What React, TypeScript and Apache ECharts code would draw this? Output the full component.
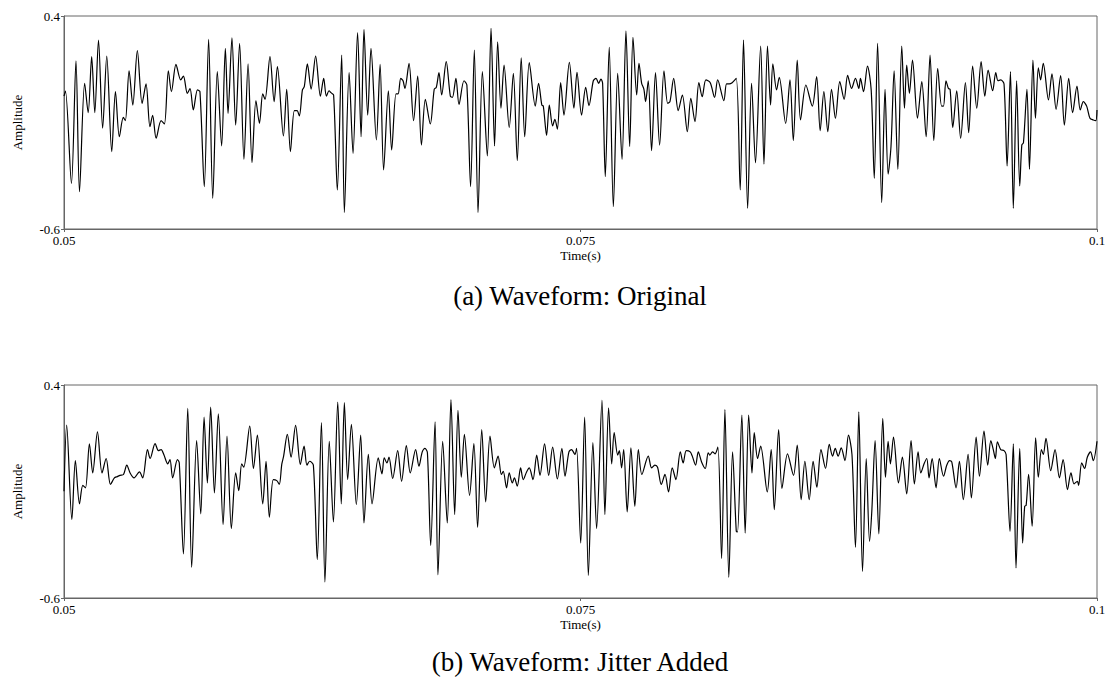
import React, { useEffect, useRef } from "react";
import * as echarts from "echarts";

// Waveform samples: time in milliseconds, amplitude in signal units.
// Each series is split into five ~10 ms windows.

// (a) Original
const ORIG_T1 = [50.00, 50.07, 50.36, 50.58, 50.75, 51.00, 51.17, 51.34, 51.49, 51.67, 51.87, 52.07, 52.31, 52.49, 52.68, 52.87, 52.97, 53.15, 53.33, 53.55, 53.78, 53.97, 54.16, 54.29, 54.46, 54.70, 54.86, 55.05, 55.20, 55.42, 55.65, 55.78, 55.97, 56.10, 56.26, 56.46, 56.58, 56.79, 57.00, 57.20, 57.42, 57.63, 57.81, 57.94, 58.13, 58.31, 58.50, 58.71, 58.91, 59.10, 59.29, 59.46, 59.62];
const ORIG_A1 = [0.024, 0.048, -0.386, 0.190, -0.425, 0.084, -0.054, 0.209, -0.054, 0.287, -0.127, 0.212, -0.237, 0.045, -0.167, -0.076, -0.091, 0.143, -0.018, 0.237, -0.010, 0.081, -0.120, -0.066, -0.174, -0.091, -0.107, 0.143, 0.045, 0.173, 0.100, 0.118, 0.037, 0.059, -0.041, 0.053, 0.045, -0.401, 0.290, -0.456, 0.139, -0.210, 0.248, -0.057, 0.297, -0.112, 0.272, -0.273, 0.175, -0.289, 0.003, -0.104, 0.034];

const ORIG_T2 = [59.73, 59.97, 60.17, 60.33, 60.62, 60.78, 60.96, 61.15, 61.28, 61.39, 61.54, 61.63, 61.78, 61.96, 62.18, 62.41, 62.57, 62.70, 62.83, 62.92, 63.05, 63.23, 63.44, 63.57, 63.80, 63.99, 64.21, 64.38, 64.52, 64.70, 64.86, 65.12, 65.30, 65.47, 65.70, 65.86, 66.07, 66.17, 66.30, 66.41, 66.50, 66.70, 66.92, 67.12, 67.30, 67.49, 67.73, 67.92, 68.02, 68.15, 68.28, 68.50, 68.70, 68.80, 68.97, 69.12, 69.36, 69.50];
const ORIG_A2 = [0.009, 0.209, -0.002, 0.162, -0.163, 0.056, -0.237, -0.044, -0.044, -0.069, 0.053, 0.068, 0.175, 0.057, 0.212, 0.024, 0.107, 0.024, 0.049, 0.040, 0.029, -0.417, 0.217, -0.523, 0.134, -0.245, 0.322, -0.167, 0.337, -0.065, 0.248, -0.182, 0.173, -0.323, 0.049, -0.229, 0.034, 0.034, 0.107, 0.096, 0.060, 0.178, -0.091, 0.118, -0.206, 0.009, -0.107, 0.056, 0.065, 0.134, 0.029, 0.186, 0.024, 0.018, 0.107, -0.015, 0.096, 0.076];

const ORIG_T3 = [69.68, 69.86, 70.04, 70.25, 70.49, 70.67, 70.84, 70.99, 71.15, 71.30, 71.55, 71.75, 71.94, 72.13, 72.30, 72.52, 72.81, 72.97, 73.13, 73.20, 73.36, 73.49, 73.65, 73.76, 73.88, 74.04, 74.20, 74.46, 74.68, 74.83, 75.05, 75.25, 75.41, 75.62, 75.75, 75.88, 75.99, 76.07, 76.20, 76.39, 76.59, 76.80, 77.01, 77.20, 77.38, 77.54, 77.72, 77.83, 77.96, 78.07, 78.15, 78.28, 78.44, 78.63, 78.83, 79.04, 79.22, 79.33, 79.51];
const ORIG_A3 = [-0.401, 0.240, -0.523, 0.139, -0.257, 0.342, -0.210, 0.279, -0.033, 0.170, -0.123, 0.131, -0.279, 0.204, -0.167, 0.181, -0.023, 0.084, -0.019, -0.023, -0.160, -0.018, -0.116, -0.085, -0.131, 0.087, -0.065, 0.182, -0.032, 0.136, -0.065, 0.065, -0.021, 0.096, 0.107, 0.084, 0.104, 0.084, -0.354, 0.253, -0.495, 0.131, -0.273, 0.330, -0.213, 0.300, 0.029, 0.178, 0.084, 0.056, -0.002, 0.096, -0.232, 0.134, -0.206, 0.143, -0.010, -0.002, 0.107];

const ORIG_T4 = [79.73, 79.93, 80.17, 80.34, 80.54, 80.73, 80.89, 81.07, 81.28, 81.49, 81.64, 81.94, 82.07, 82.20, 82.34, 82.54, 82.73, 82.89, 83.09, 83.28, 83.47, 83.72, 83.88, 84.05, 84.20, 84.31, 84.49, 84.62, 84.93, 85.14, 85.30, 85.49, 85.65, 85.91, 86.22, 86.43, 86.60, 86.78, 86.97, 87.15, 87.34, 87.55, 87.76, 87.93, 88.12, 88.31, 88.47, 88.55, 88.70, 88.89, 89.07, 89.22, 89.38];
const ORIG_A4 = [-0.044, 0.029, -0.143, 0.013, -0.096, 0.087, 0.021, 0.100, 0.087, 0.018, 0.100, 0.003, 0.081, 0.081, 0.087, 0.107, -0.417, 0.287, -0.503, 0.084, -0.289, 0.259, -0.295, 0.259, -0.018, 0.175, 0.053, 0.112, -0.104, 0.100, -0.185, 0.193, -0.088, 0.076, -0.023, 0.115, -0.138, 0.045, -0.143, 0.056, -0.080, 0.092, 0.009, 0.121, 0.060, 0.107, 0.060, 0.107, 0.045, 0.165, 0.053, -0.362, 0.272];

const ORIG_T5 = [89.58, 89.74, 89.89, 90.03, 90.18, 90.36, 90.55, 90.68, 90.79, 90.92, 91.07, 91.31, 91.52, 91.73, 91.92, 92.10, 92.29, 92.48, 92.57, 92.69, 92.81, 92.89, 93.02, 93.21, 93.40, 93.63, 93.79, 93.98, 94.18, 94.39, 94.57, 94.73, 94.95, 95.10, 95.21, 95.34, 95.50, 95.65, 95.81, 95.95, 96.11, 96.26, 96.36, 96.44, 96.61, 96.73, 96.90, 97.02, 97.16, 97.27, 97.40, 97.65, 97.82, 98.02, 98.24, 98.42, 98.63, 98.82, 99.03, 99.19, 99.34, 99.50, 99.66, 99.82, 99.94, 100.00];
const ORIG_A5 = [-0.476, 0.056, -0.342, -0.210, 0.143, -0.320, 0.259, -0.033, 0.170, 0.037, 0.193, -0.080, 0.092, -0.167, 0.217, -0.185, 0.154, -0.023, -0.023, 0.096, 0.060, 0.056, -0.123, 0.049, -0.174, 0.087, -0.148, 0.165, -0.033, 0.186, 0.024, 0.146, 0.049, 0.134, 0.096, 0.100, 0.081, -0.304, 0.139, -0.503, 0.096, -0.398, -0.206, -0.195, 0.056, -0.320, 0.193, -0.080, 0.157, 0.100, 0.178, 0.006, 0.128, -0.038, 0.120, -0.112, 0.107, -0.054, 0.071, -0.041, -0.002, -0.023, -0.080, -0.088, -0.091, -0.041];

// (b) Jitter added
const JIT_T1 = [50.00, 50.13, 50.38, 50.55, 50.75, 50.91, 51.04, 51.23, 51.39, 51.62, 51.84, 52.04, 52.25, 52.44, 52.58, 52.71, 52.88, 53.04, 53.20, 53.39, 53.65, 53.81, 54.04, 54.17, 54.41, 54.57, 54.70, 54.84, 55.02, 55.13, 55.26, 55.49, 55.58, 55.78, 55.99, 56.18, 56.42, 56.62, 56.78, 56.94, 57.10, 57.28, 57.47, 57.70, 57.89, 58.10, 58.31, 58.46, 58.60, 58.70, 58.99, 59.17, 59.36, 59.62];
const JIT_A1 = [-0.099, 0.212, -0.232, 0.045, -0.158, -0.071, -0.083, 0.124, -0.013, 0.180, -0.013, 0.055, -0.067, -0.036, -0.030, -0.024, -0.020, 0.024, -0.013, -0.036, -0.008, -0.036, 0.097, 0.055, 0.125, 0.092, 0.097, 0.071, 0.030, 0.050, -0.036, 0.050, 0.034, -0.393, 0.290, -0.456, 0.139, -0.205, 0.249, -0.060, 0.296, -0.107, 0.265, -0.255, 0.160, -0.274, -0.013, -0.096, 0.030, 0.014, 0.207, 0.008, 0.165, -0.158];

const JIT_T2 = [59.78, 59.94, 60.13, 60.30, 60.42, 60.54, 60.63, 60.81, 60.99, 61.21, 61.44, 61.62, 61.76, 61.89, 62.07, 62.26, 62.46, 62.63, 62.84, 63.04, 63.25, 63.42, 63.57, 63.73, 63.91, 64.15, 64.36, 64.52, 64.73, 64.91, 65.21, 65.39, 65.50, 65.63, 65.73, 65.91, 66.15, 66.34, 66.57, 66.76, 67.02, 67.18, 67.34, 67.47, 67.59, 67.75, 67.96, 68.10, 68.33, 68.55, 68.73, 68.91, 69.07, 69.23, 69.38, 69.63];
const JIT_A2 = [0.042, -0.221, -0.044, -0.049, -0.067, 0.027, 0.066, 0.168, 0.061, 0.210, 0.027, 0.113, 0.024, 0.042, 0.024, -0.420, 0.223, -0.525, 0.136, -0.243, 0.320, -0.158, 0.317, -0.044, 0.215, -0.161, 0.165, -0.248, 0.074, -0.158, 0.058, -0.017, 0.058, 0.034, 0.061, -0.039, 0.092, -0.052, 0.116, -0.013, 0.097, 0.019, 0.086, 0.102, 0.082, -0.353, 0.227, -0.491, 0.136, -0.248, 0.332, -0.208, 0.281, -0.033, 0.168, -0.118];

const JIT_T3 = [69.84, 70.02, 70.22, 70.41, 70.62, 70.83, 71.01, 71.17, 71.26, 71.42, 71.55, 71.70, 71.80, 71.94, 72.10, 72.23, 72.39, 72.52, 72.70, 72.88, 73.04, 73.26, 73.46, 73.65, 73.88, 74.10, 74.25, 74.44, 74.57, 74.73, 74.81, 75.01, 75.20, 75.38, 75.60, 75.78, 76.04, 76.18, 76.36, 76.51, 76.63, 76.80, 76.88, 76.99, 77.09, 77.26, 77.44, 77.63, 77.80, 77.97, 78.28, 78.44, 78.60, 78.73, 78.91, 79.09, 79.26, 79.44];
const JIT_A3 = [0.125, -0.268, 0.191, -0.149, 0.160, 0.011, 0.066, -0.020, -0.005, -0.083, -0.013, -0.060, -0.036, -0.075, 0.011, -0.044, -0.008, 0.011, -0.044, 0.071, -0.024, 0.124, -0.024, 0.108, -0.041, 0.102, -0.028, 0.086, 0.097, 0.074, 0.102, -0.342, 0.249, -0.494, 0.129, -0.274, 0.329, -0.208, 0.293, 0.030, 0.176, 0.071, 0.092, 0.011, 0.097, -0.196, 0.105, -0.169, 0.097, -0.020, 0.066, 0.011, 0.024, 0.014, -0.067, -0.020, -0.102, 0.011];

const JIT_T4 = [79.62, 79.83, 79.97, 80.12, 80.31, 80.41, 80.57, 80.70, 80.86, 81.04, 81.18, 81.26, 81.39, 81.51, 81.65, 81.83, 81.99, 82.18, 82.36, 82.54, 82.60, 82.81, 82.97, 83.14, 83.30, 83.41, 83.57, 83.72, 84.04, 84.23, 84.38, 84.59, 84.75, 85.02, 85.31, 85.49, 85.68, 85.86, 86.07, 86.26, 86.44, 86.64, 86.86, 87.04, 87.20, 87.33, 87.47, 87.62, 87.80, 87.97, 88.14, 88.31, 88.47, 88.65, 88.83, 88.99, 89.10, 89.26, 89.44];
const JIT_A4 = [-0.044, 0.086, 0.034, 0.092, 0.086, 0.066, 0.024, 0.086, 0.039, 0.008, 0.082, 0.071, 0.086, 0.077, 0.108, -0.415, 0.285, -0.503, 0.086, -0.287, -0.290, 0.259, -0.295, 0.259, -0.013, 0.176, 0.055, 0.113, -0.102, 0.097, -0.185, 0.191, -0.086, 0.077, -0.024, 0.118, -0.138, 0.042, -0.138, 0.042, -0.080, 0.097, 0.008, 0.121, 0.066, 0.102, 0.066, 0.105, 0.045, 0.165, 0.074, -0.362, 0.274, -0.475, 0.055, -0.334, -0.193, 0.139, -0.299];

const JIT_T5 = [89.63, 89.76, 89.89, 90.00, 90.15, 90.39, 90.58, 90.79, 91.00, 91.16, 91.34, 91.47, 91.63, 91.76, 91.87, 92.02, 92.21, 92.37, 92.57, 92.73, 92.86, 92.97, 93.18, 93.34, 93.53, 93.76, 93.92, 94.15, 94.31, 94.53, 94.71, 94.86, 94.98, 95.08, 95.18, 95.34, 95.50, 95.60, 95.79, 95.95, 96.08, 96.26, 96.40, 96.50, 96.57, 96.69, 96.86, 97.03, 97.16, 97.31, 97.40, 97.53, 97.76, 97.97, 98.18, 98.36, 98.57, 98.74, 98.89, 99.05, 99.11, 99.26, 99.40, 99.53, 99.69, 99.82, 100.00];
const JIT_A5 = [0.243, -0.033, 0.136, 0.030, 0.155, -0.060, 0.061, -0.111, 0.139, -0.064, 0.086, -0.013, 0.030, 0.055, -0.036, 0.055, -0.083, 0.055, -0.028, 0.024, 0.045, 0.039, -0.083, 0.042, -0.138, 0.074, -0.130, 0.155, -0.028, 0.183, 0.024, 0.139, 0.097, 0.055, 0.133, 0.097, 0.092, 0.074, -0.287, 0.124, -0.459, 0.102, -0.342, -0.169, -0.165, -0.020, -0.263, 0.152, -0.033, 0.097, 0.074, 0.149, -0.002, 0.097, -0.036, 0.050, -0.091, -0.013, -0.064, -0.052, -0.071, 0.034, 0.008, 0.061, 0.086, 0.045, 0.136];

// Axis ticks and captions
const TIME_TICKS = [0.05, 0.075, 0.1];
const AMP_TICKS = [-0.6, 0.4];
const CAPTION_A = "(a) Waveform: Original";
const CAPTION_B = "(b) Waveform: Jitter Added";

const toPairs = (times: number[][], amps: number[][]) => {
  const out: [number, number][] = [];
  times.forEach((ts, k) => {
    const as = amps[k];
    const n = Math.min(ts.length, as.length);
    for (let i = 0; i < n; i++) out.push([ts[i] / 1000, as[i]]);
  });
  return out;
};

export default function App() {
  const ref = useRef<HTMLDivElement>(null);

  useEffect(() => {
    if (!ref.current) return;
    const chart = echarts.init(ref.current, null, { renderer: "svg" });
    const font = "Liberation Serif";
    const axisColor = "#666";

    const original = toPairs(
      [ORIG_T1, ORIG_T2, ORIG_T3, ORIG_T4, ORIG_T5],
      [ORIG_A1, ORIG_A2, ORIG_A3, ORIG_A4, ORIG_A5]
    );
    const jitter = toPairs(
      [JIT_T1, JIT_T2, JIT_T3, JIT_T4, JIT_T5],
      [JIT_A1, JIT_A2, JIT_A3, JIT_A4, JIT_A5]
    );

    const xAxis = (gridIndex: number) => ({
      type: "value",
      gridIndex,
      min: 0.05,
      max: 0.1,
      name: "Time(s)",
      nameLocation: "middle",
      nameGap: 20,
      nameTextStyle: { fontFamily: font, fontSize: 13, color: "#000" },
      axisLine: { show: true, onZero: false, lineStyle: { color: axisColor, width: 1 } },
      axisTick: { show: true, length: 3, customValues: TIME_TICKS, lineStyle: { color: axisColor } },
      axisLabel: {
        customValues: TIME_TICKS,
        fontFamily: font,
        fontSize: 13,
        color: "#000",
        margin: 5,
        formatter: (v: number) => String(v),
      },
      splitLine: { show: false },
    });

    const yAxis = (gridIndex: number) => ({
      type: "value",
      gridIndex,
      min: -0.6,
      max: 0.4,
      name: "Amplitude",
      nameLocation: "middle",
      nameGap: 40,
      nameTextStyle: { fontFamily: font, fontSize: 13, color: "#000" },
      axisLine: { show: true, onZero: false, lineStyle: { color: axisColor, width: 1 } },
      axisTick: { show: true, length: 3, customValues: AMP_TICKS, lineStyle: { color: axisColor } },
      axisLabel: {
        customValues: AMP_TICKS,
        fontFamily: font,
        fontSize: 13,
        color: "#000",
        margin: 4,
        formatter: (v: number) => String(v),
      },
      splitLine: { show: false },
    });

    const lineSeries = (idx: number, data: [number, number][]) => ({
      type: "line",
      xAxisIndex: idx,
      yAxisIndex: idx,
      data,
      symbol: "none",
      showSymbol: false,
      smooth: 0.3,
      lineStyle: { color: "#000", width: 1.2 },
      emphasis: { disabled: true },
    });

    const caption = (text: string, y: number) => ({
      type: "text",
      x: 580,
      y,
      style: {
        text,
        font: "27px 'Liberation Serif', serif",
        fontFamily: font,
        fontSize: 27,
        fill: "#000",
        align: "center",
        verticalAlign: "middle",
      },
    });

    chart.setOption({
      animation: false,
      backgroundColor: "#fff",
      grid: [
        { left: 64, right: 20, top: 16, height: 213, show: true, borderColor: axisColor, borderWidth: 1 },
        { left: 64, right: 20, top: 385, height: 213, show: true, borderColor: axisColor, borderWidth: 1 },
      ],
      xAxis: [xAxis(0), xAxis(1)],
      yAxis: [yAxis(0), yAxis(1)],
      series: [lineSeries(0, original), lineSeries(1, jitter)],
      graphic: [caption(CAPTION_A, 296), caption(CAPTION_B, 662)],
    });

    return () => chart.dispose();
  }, []);

  return (
    <div
      ref={ref}
      style={{ position: "fixed", left: 0, top: 0, width: 1117, height: 682, background: "#fff" }}
    />
  );
}
